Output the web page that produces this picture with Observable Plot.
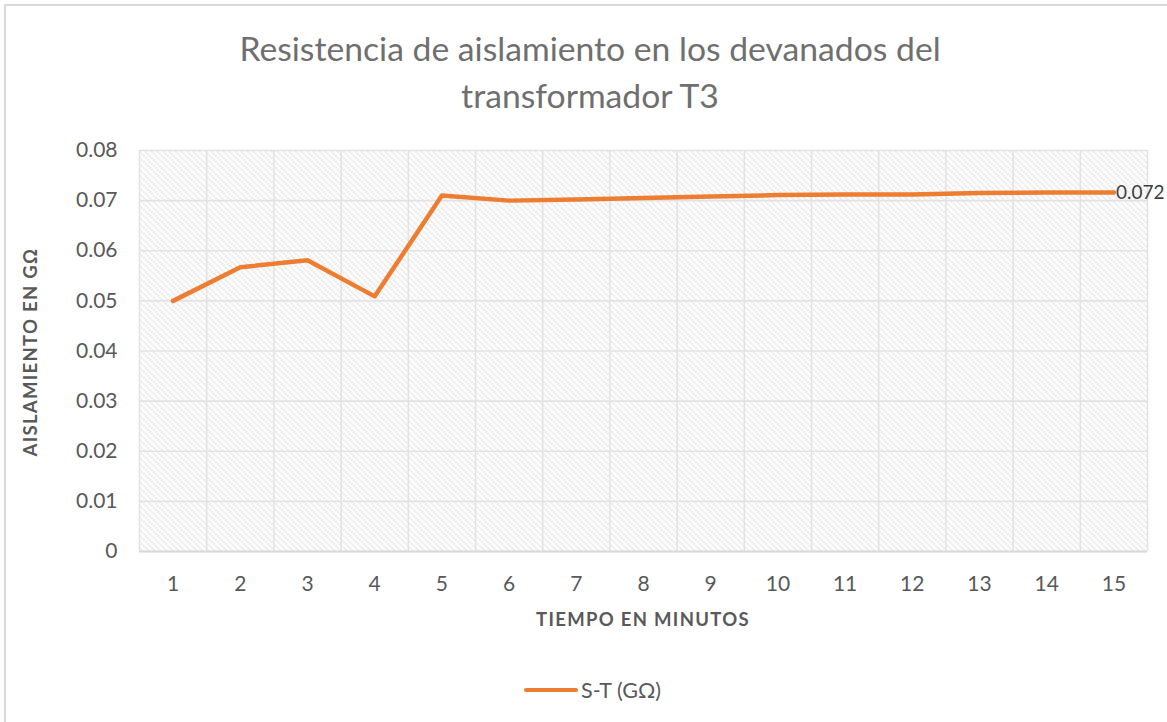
<!DOCTYPE html>
<html>
<head>
<meta charset="utf-8">
<script src="https://cdn.jsdelivr.net/npm/d3@7"></script>
<script src="https://cdn.jsdelivr.net/npm/@observablehq/plot@0.6"></script>
<style>
  html, body { margin: 0; padding: 0; background: #fff; }
  #wrap { position: relative; width: 1167px; height: 722px; overflow: hidden; font-family: Lato, "Open Sans", sans-serif; }
  #frame { position: absolute; left: 4px; top: 4px; width: 1200px; height: 760px; border-left: 2px solid #d9d9d9; border-top: 2px solid #d9d9d9; box-sizing: border-box; }
  #chart { position: absolute; left: 0; top: 0; }
  #title { position: absolute; left: 0; width: 1180px; top: 25px; text-align: center; font-size: 33.7px; line-height: 47px; color: #6f6f6f; font-weight: 400; }
  #ylab { position: absolute; left: 30px; top: 352px; transform: translate(-50%, -50%) rotate(-90deg); white-space: nowrap; font-weight: 700; font-size: 18.5px; letter-spacing: 1.3px; color: #595959; }
  #xlab { position: absolute; left: 643px; top: 619px; transform: translate(-50%, -50%); white-space: nowrap; font-weight: 700; font-size: 18.5px; letter-spacing: 1.3px; color: #595959; }
  #legend { position: absolute; left: 524px; top: 690px; transform: translateY(-50%); display: flex; align-items: center; font-size: 21.5px; color: #595959; }
  #legend .sw { width: 54px; height: 4.5px; background: #ED7D31; border-radius: 2px; margin-right: 3px; }
</style>
</head>
<body>
<div id="wrap">
  <div id="frame"></div>
  <div id="title">Resistencia de aislamiento en los devanados del<br>transformador T3</div>
  <div id="ylab">AISLAMIENTO EN GΩ</div>
  <div id="xlab">TIEMPO EN MINUTOS</div>
  <div id="legend"><div class="sw"></div><span id="legtext"></span></div>
</div>
<script>
// Data
const minutes = [1, 2, 3, 4, 5, 6, 7, 8, 9, 10, 11, 12, 13, 14, 15];
const resistance = [0.0500, 0.0567, 0.0581, 0.0509, 0.0710, 0.0700, 0.0702, 0.0705, 0.0708, 0.0711, 0.0712, 0.0712, 0.0715, 0.0716, 0.0716];
const yTicks = [0, 0.01, 0.02, 0.03, 0.04, 0.05, 0.06, 0.07, 0.08];
const lastLabel = "0.072";
const seriesName = "S-T (GΩ)";

document.getElementById("legtext").textContent = seriesName;

const data = minutes.map((m, i) => ({minute: m, value: resistance[i]}));
const bounds = [minutes[0] - 0.5, ...minutes.map(m => m + 0.5)];
const last = data[data.length - 1];

const chart = Plot.plot({
  width: 1167,
  height: 722,
  marginLeft: 139,
  marginRight: 20,
  marginTop: 150,
  marginBottom: 171,
  style: {fontFamily: "Lato, 'Open Sans', sans-serif", fontSize: "21px", color: "#595959", background: "transparent"},
  x: {type: "linear", domain: [bounds[0], bounds[bounds.length - 1]], ticks: minutes, tickSize: 0, tickPadding: 25, tickFormat: d => String(d), label: null},
  y: {domain: [yTicks[0], yTicks[yTicks.length - 1]], ticks: yTicks, tickSize: 0, tickPadding: 22, tickFormat: d => d === 0 ? "0" : d.toFixed(2), label: null},
  marks: [
    Plot.frame({fill: "url(#hatch)", stroke: null}),
    Plot.ruleX(bounds, {stroke: "#e3e3e3", strokeWidth: 1.6}),
    Plot.ruleY(yTicks, {stroke: "#e3e3e3", strokeWidth: 1.6}),
    Plot.ruleY([yTicks[0]], {stroke: "#d9d9d9", strokeWidth: 2}),
    Plot.line(data, {x: "minute", y: "value", stroke: "#ED7D31", strokeWidth: 4.5, strokeLinejoin: "round", strokeLinecap: "round"}),
    Plot.text([last], {x: "minute", y: "value", text: () => lastLabel, textAnchor: "start", dx: 2, fill: "#404040", fontSize: 19})
  ]
});

const svg = d3.select(chart);
const defs = svg.insert("defs", ":first-child");
const pat = defs.append("pattern")
  .attr("id", "hatch")
  .attr("patternUnits", "userSpaceOnUse")
  .attr("width", 6).attr("height", 6);
pat.append("rect").attr("width", 6).attr("height", 6).attr("fill", "#ffffff");
pat.append("path").attr("d", "M-1,-1 L7,7 M-4,2 L1,7 M2,-4 L7,1")
  .attr("stroke", "#cfcfcf").attr("stroke-width", 1.3).attr("stroke-dasharray", "1.4,1.4");

chart.id = "chart";
document.getElementById("wrap").insertBefore(chart, document.getElementById("title"));
</script>
</body>
</html>
